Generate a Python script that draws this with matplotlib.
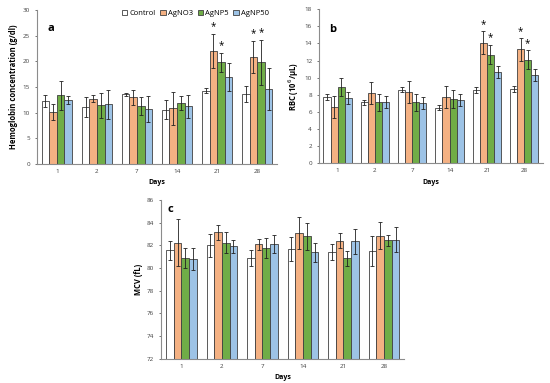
import matplotlib
matplotlib.use("Agg")
from matplotlib import pyplot as plt
import numpy as np

plt.rcParams['font.family'] = ['Open Sans', 'DejaVu Sans']

days = ["1", "2", "7", "14", "21", "28"]
groups = ["Control", "AgNO3", "AgNP5", "AgNP50"]
colors = ["#ffffff", "#f4b183", "#70ad47", "#9dc3e6"]

# hemoglobin (g/dl)
hb_control = [12.2, 11.1, 13.6, 10.6, 14.3, 13.6]
hb_agno3 = [10.1, 12.7, 13.0, 10.8, 22.0, 20.9]
hb_agnp5 = [13.4, 11.4, 11.3, 11.9, 19.8, 19.8]
hb_agnp50 = [12.5, 11.6, 10.7, 11.2, 16.9, 14.6]
hb_control_err = [1.2, 2.0, 0.3, 1.9, 0.5, 1.5]
hb_agno3_err = [1.6, 0.7, 1.5, 3.2, 3.3, 3.1]
hb_agnp5_err = [2.8, 2.4, 1.7, 1.4, 1.9, 4.4]
hb_agnp50_err = [0.8, 2.8, 2.5, 2.3, 2.7, 4.0]

# RBC (10^6/uL)
rbc_control = [7.75, 7.1, 8.6, 6.5, 8.5, 8.7]
rbc_agno3 = [6.6, 8.2, 8.3, 7.7, 14.1, 13.3]
rbc_agnp5 = [8.9, 7.1, 7.1, 7.5, 12.7, 12.1]
rbc_agnp50 = [7.6, 7.2, 7.0, 7.4, 10.7, 10.3]
rbc_control_err = [0.35, 0.3, 0.3, 0.3, 0.35, 0.35]
rbc_agno3_err = [1.3, 1.3, 1.3, 1.3, 1.3, 1.3]
rbc_agnp5_err = [1.1, 1.0, 1.0, 1.0, 1.1, 1.1]
rbc_agnp50_err = [0.7, 0.7, 0.7, 0.7, 0.7, 0.7]

# MCV (fL)
mcv_control = [81.55, 82.0, 80.9, 81.7, 81.4, 81.5]
mcv_agno3 = [82.25, 83.15, 82.1, 83.1, 82.4, 82.85]
mcv_agnp5 = [80.9, 82.25, 81.75, 82.8, 80.85, 82.45]
mcv_agnp50 = [80.8, 81.9, 82.1, 81.4, 82.35, 82.5]
mcv_control_err = [0.8, 1.0, 0.7, 1.05, 0.7, 1.3]
mcv_agno3_err = [2.1, 0.65, 0.5, 1.4, 0.65, 1.2]
mcv_agnp5_err = [0.9, 0.9, 0.9, 1.2, 0.65, 0.5]
mcv_agnp50_err = [1.0, 0.6, 0.8, 0.85, 1.1, 1.1]

# significant bars: (day index, group index)
hb_stars = [(4, 1), (4, 2), (5, 1), (5, 2)]
rbc_stars = [(4, 1), (4, 2), (5, 1), (5, 2)]


def draw_panel(ax, vals, errs, ylim, ystep, ylabel, letter, letter_xy, stars=None):
    x = np.arange(len(days))
    w = 0.19
    for i, (v, e) in enumerate(zip(vals, errs)):
        pos = x + (i - 1.5) * w
        ax.bar(pos, np.array(v) - ylim[0], w, bottom=ylim[0], color=colors[i],
               edgecolor="#404040", linewidth=0.6, label=groups[i], zorder=2)
        ax.errorbar(pos, v, yerr=e, fmt="none", ecolor="#202020",
                    elinewidth=0.6, capsize=1.5, capthick=0.6, zorder=3)
    if stars:
        for d, g in stars:
            top = vals[g][d] + errs[g][d]
            ax.text(x[d] + (g - 1.5) * w, top + (ylim[1] - ylim[0]) * 0.01, "*",
                    ha="center", va="bottom", fontsize=7)
    ax.set_ylim(*ylim)
    ax.set_xlim(-0.5, len(days) - 0.5)
    ax.set_yticks(np.arange(ylim[0], ylim[1] + 0.1, ystep))
    ax.set_xticks(x)
    ax.set_xticklabels(days)
    ax.tick_params(labelsize=4.5, length=1.5, width=0.5, colors="#404040")
    ax.tick_params(axis="x", length=0)
    for s in ["top", "right"]:
        ax.spines[s].set_visible(False)
    for s in ["left", "bottom"]:
        ax.spines[s].set_color("#8c8c8c")
        ax.spines[s].set_linewidth(0.8)
    ax.set_xlabel("Days", fontsize=5, fontweight="bold", labelpad=4)
    ax.set_ylabel(ylabel, fontsize=5.5, fontweight="bold", labelpad=3)
    ax.text(letter_xy[0], letter_xy[1], letter, transform=ax.transAxes, fontsize=8,
            fontweight="bold", ha="left", va="center")


fig = plt.figure(figsize=(5.5, 3.83), dpi=100)
ax_a = fig.add_axes([0.067, 0.572, 0.437, 0.402])
ax_b = fig.add_axes([0.58, 0.574, 0.407, 0.402])
ax_c = fig.add_axes([0.293, 0.063, 0.442, 0.415])

draw_panel(ax_a, [hb_control, hb_agno3, hb_agnp5, hb_agnp50],
           [hb_control_err, hb_agno3_err, hb_agnp5_err, hb_agnp50_err],
           (0, 30), 5, "Hemoglobin concentration (g/dl)", "a", (0.045, 0.88), hb_stars)
draw_panel(ax_b, [rbc_control, rbc_agno3, rbc_agnp5, rbc_agnp50],
           [rbc_control_err, rbc_agno3_err, rbc_agnp5_err, rbc_agnp50_err],
           (0, 18), 2, "RBC (10$^6$/μL)", "b", (0.045, 0.87), rbc_stars)
draw_panel(ax_c, [mcv_control, mcv_agno3, mcv_agnp5, mcv_agnp50],
           [mcv_control_err, mcv_agno3_err, mcv_agnp5_err, mcv_agnp50_err],
           (72, 86), 2, "MCV (fL)", "c", (0.025, 0.94))

ax_a.legend(loc="upper center", bbox_to_anchor=(0.66, 1.02), ncol=4, frameon=False,
            fontsize=5.5, handlelength=0.7, handleheight=0.7, handletextpad=0.3,
            columnspacing=0.6, borderaxespad=0)

fig.savefig("out.png", dpi=100)
